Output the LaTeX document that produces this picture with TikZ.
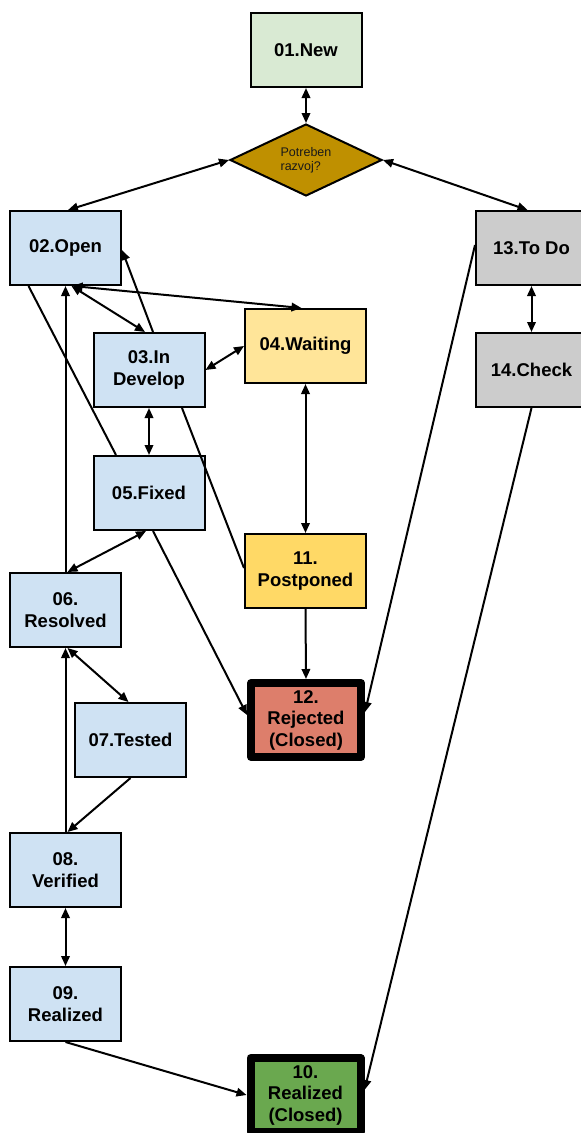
\documentclass[tikz,border=0pt]{standalone}
\usepackage{fontspec}
\setmainfont{Liberation Sans}
\usetikzlibrary{arrows.meta,shapes.geometric}

\definecolor{cnew}{HTML}{D9EAD3}
\definecolor{cdecide}{HTML}{BF9000}
\definecolor{cblue}{HTML}{CFE2F3}
\definecolor{cwait}{HTML}{FFE599}
\definecolor{cpost}{HTML}{FFD966}
\definecolor{creject}{HTML}{DD7E6B}
\definecolor{cdone}{HTML}{6AA84F}
\definecolor{cgrey}{HTML}{CCCCCC}

\begin{document}
\begin{tikzpicture}[x=1pt,y=-1pt,
  state/.style={draw=black, line width=2pt, minimum width=111pt, minimum height=74pt,
    inner sep=0pt, align=center, font=\bfseries\fontsize{18.5}{21.5}\selectfont},
  closedstate/.style={state, line width=8pt, line join=round, minimum width=110pt},
  link/.style={draw=black, line width=2pt},
  twoway/.style={link, {Triangle[length=10pt,width=8.5pt]}-{Triangle[length=10pt,width=8.5pt]}},
  oneway/.style={link, -{Triangle[length=10pt,width=8.5pt]}},
]
\useasboundingbox (0,0) rectangle (581,1133);
\clip (0,0) rectangle (581,1133);

% states
\node[state, fill=cnew] (n01) at (306,50) {01.New};
\node[diamond, draw=black, line width=2pt, fill=cdecide, aspect=2,
      minimum width=152pt, minimum height=72pt, inner sep=0pt, align=left,
      font=\fontsize{12.5}{14}\selectfont, text=black!90] (dec) at (306,160) {Potreben\\razvoj?};
\node[state, fill=cblue] (n02) at (65.5,248) {02.Open};
\node[state, fill=cblue] (n03) at (149,370) {03.In\\Develop};
\node[state, fill=cwait, minimum width=121pt] (n04) at (305.5,346) {04.Waiting};
\node[state, fill=cblue] (n05) at (149,493) {05.Fixed};
\node[state, fill=cblue] (n06) at (65.5,610) {06.\\Resolved};
\node[state, fill=cblue] (n07) at (130.5,740) {07.Tested};
\node[state, fill=cblue] (n08) at (65.5,870) {08.\\Verified};
\node[state, fill=cblue] (n09) at (65.5,1004) {09.\\Realized};
\node[closedstate, fill=cdone] (n10) at (305.5,1095) {10.\\Realized\\(Closed)};
\node[state, fill=cpost, minimum width=121pt] (n11) at (305.5,571) {11.\\Postponed};
\node[closedstate, fill=creject] (n12) at (306,720) {12.\\Rejected\\(Closed)};
\node[state, fill=cgrey] (n13) at (531.5,248) {13.To Do};
\node[state, fill=cgrey] (n14) at (531.5,370) {14.Check};

% transitions
\draw[twoway] (n01.south) -- (dec.north);
\draw[twoway] (dec.west) -- ([xshift=2.5pt]n02.north);
\draw[twoway] (dec.east) -- ([xshift=-4pt]n13.north);
\draw[twoway] (n13.south) -- (n14.north);
\draw[oneway] ([yshift=3pt]n13.west) -- ([yshift=8pt]n12.east);
\draw[oneway] (n14.south) -- ([yshift=5pt]n10.east);

\draw[oneway] ([xshift=4pt]n03.north) -- ([yshift=-2pt]n02.east);
\draw[twoway] ([xshift=6pt]n02.south) -- ([xshift=-4pt]n03.north);
\draw[twoway] ([xshift=7pt]n02.south) -- ([xshift=-4pt]n04.north);
\draw[oneway] (n06.north) -- (n02.south);
\draw[link] ([xshift=-37pt]n02.south) -- ([xshift=-33pt]n05.north);

\draw[twoway] (n03.east) -- (n04.west);
\draw[twoway] (n03.south) -- (n05.north);
\draw[link] ([xshift=33pt]n03.south) -- ([yshift=3pt]n11.west);
\draw[twoway] (n04.south) -- (n11.north);

\draw[twoway] ([xshift=-3pt]n05.south) -- ([xshift=2pt]n06.north);
\draw[oneway] ([xshift=4pt]n05.south) -- ([yshift=5pt]n12.west);
\draw[oneway] (n11.south) -- (n12.north);

\draw[twoway] ([xshift=2pt]n06.south) -- ([xshift=-2pt]n07.north);
\draw[oneway] (n07.south) -- ([xshift=2pt]n08.north);
\draw[oneway] (n08.north) -- (n06.south);
\draw[twoway] (n08.south) -- (n09.north);
\draw[oneway] (n09.south) -- (n10.west);
\end{tikzpicture}
\end{document}
